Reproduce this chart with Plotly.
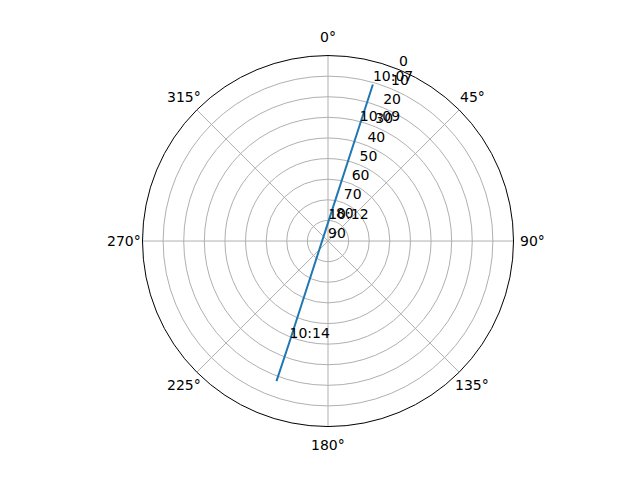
import math
import plotly.graph_objects as go

# satellite pass track (azimuth deg, elevation deg)
azimuth = [16.0, 15.3, 0.6, 200.9, 200.2]
elevation = [11.0, 31.5, 80.8, 37.6, 17.6]
time_labels = ["10:07", "10:09", "10:12", "10:14", ""]

elev_ticks = [0, 10, 20, 30, 40, 50, 60, 70, 80, 90]
angle_ticks = [0, 45, 90, 135, 180, 225, 270, 315]
label_azimuth = 22.5

# zenith at centre, horizon at the outer ring
r_vals = [90 - e for e in elevation]
r_ticks = [90 - e for e in elev_ticks]

W, H = 640, 480
cx, cy = 0.5, 0.5145      # polar centre in paper coords
half = 185.5              # polar radius in px
label_dist = 204          # azimuth labels centred this far out (px)

fig = go.Figure()
fig.add_trace(go.Scatterpolar(
    r=r_vals, theta=azimuth, mode="lines",
    line=dict(color="#1f77b4", width=2), hoverinfo="skip"))
fig.add_trace(go.Scatterpolar(
    r=r_vals, theta=azimuth, mode="text", text=time_labels,
    textposition="top right", textfont=dict(size=14, color="black")))
# elevation labels, upright like matplotlib's rlabels
fig.add_trace(go.Scatterpolar(
    r=r_ticks, theta=[label_azimuth] * len(r_ticks), mode="text",
    text=[str(e) for e in elev_ticks],
    textposition="top right", textfont=dict(size=14, color="black"),
    hoverinfo="skip"))

# azimuth labels centred outside the ring (matplotlib style)
for a in angle_ticks:
    fig.add_annotation(
        x=cx + label_dist * math.sin(math.radians(a)) / W,
        y=cy + label_dist * math.cos(math.radians(a)) / H,
        xref="paper", yref="paper", text=f"{a}°", showarrow=False,
        xanchor="center", yanchor="middle",
        font=dict(size=14, color="black"))

fig.update_layout(
    width=W, height=H,
    margin=dict(l=0, r=0, t=0, b=0),
    paper_bgcolor="white",
    showlegend=False,
    font=dict(family="DejaVu Sans", size=14, color="black"),
    polar=dict(
        domain=dict(x=[cx - half / W, cx + half / W],
                    y=[cy - half / H, cy + half / H]),
        bgcolor="white",
        angularaxis=dict(
            rotation=90, direction="clockwise",
            tickvals=angle_ticks,
            showticklabels=False,
            showgrid=True, gridcolor="#b0b0b0", gridwidth=1,
            showline=True, linecolor="black", linewidth=1,
            ticks=""),
        radialaxis=dict(
            range=[0, 90], angle=67.5,
            tickvals=r_ticks,
            showticklabels=False,
            showgrid=True, gridcolor="#b0b0b0", gridwidth=1,
            showline=False, ticks=""),
    ),
)

fig.write_html("out.html")
